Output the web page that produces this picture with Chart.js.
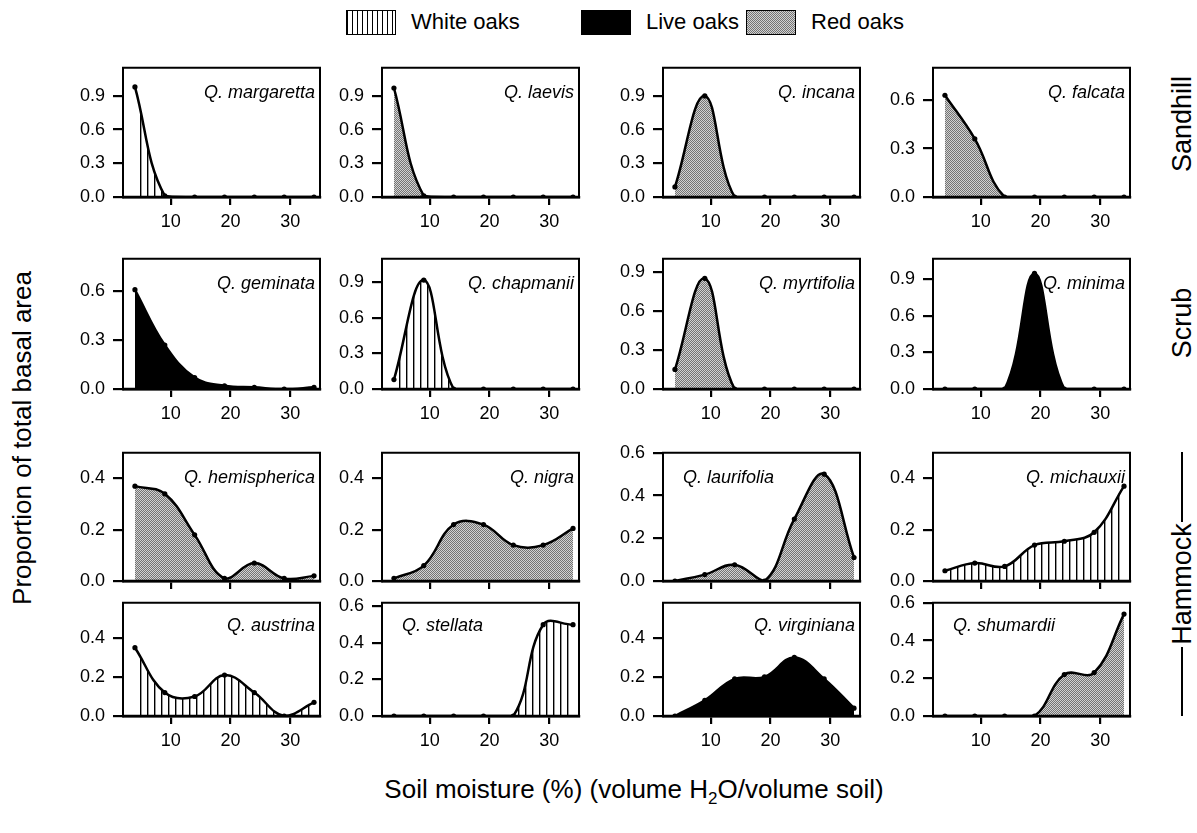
<!DOCTYPE html>
<html>
<head>
<meta charset="utf-8">
<script src="https://cdn.jsdelivr.net/npm/chart.js@4.4.1/dist/chart.umd.min.js"></script>
<style>
  html, body { margin: 0; padding: 0; background: #fff; }
  body { width: 1197px; height: 833px; position: relative; overflow: hidden;
         font-family: "Liberation Sans", Arial, Helvetica, sans-serif; color: #000; }
  canvas.panel { position: absolute; }
  .legend-item { position: absolute; top: 8px; height: 28px; display: flex; align-items: center; font-size: 22px; }
  .swatch { width: 50px; height: 25px; box-sizing: border-box; border: 1.5px solid #000; margin-right: 15px; }
  .rot { position: absolute; transform: translate(-50%, -50%) rotate(-90deg); white-space: nowrap; }
  .vline { position: absolute; width: 2px; background: #000; }
</style>
</head>
<body>
<div class="legend-item" style="left:346px;"><div class="swatch" id="swWhite"></div>White oaks</div>
<div class="legend-item" style="left:581px;"><div class="swatch" style="background:#000"></div>Live oaks</div>
<div class="legend-item" style="left:746px;"><div class="swatch" id="swRed"></div>Red oaks</div>

<div class="rot" style="left:22px; top:438px; font-size:26px;">Proportion of total basal area</div>
<div style="position:absolute; left:0; width:1268px; top:774px; text-align:center; font-size:26px;">Soil moisture (%) (volume H<sub style="font-size:17px;">2</sub>O/volume soil)</div>

<div class="rot" style="left:1182px; top:124px; font-size:27px;">Sandhill</div>
<div class="rot" style="left:1182px; top:323px; font-size:27px;">Scrub</div>
<div class="rot" style="left:1182px; top:584px; font-size:27px;">Hammock</div>
<div class="vline" style="left:1181px; top:452px; height:70px;"></div>
<div class="vline" style="left:1181px; top:647px; height:69px;"></div>

<script>
// ---------------- DATA ----------------
const moisture = [4, 9, 14, 19, 24, 29, 34];          // soil moisture classes (%)
const xTickLabels = [10, 20, 30];

const species = [
  'Q. margaretta', 'Q. laevis', 'Q. incana', 'Q. falcata',
  'Q. geminata', 'Q. chapmanii', 'Q. myrtifolia', 'Q. minima',
  'Q. hemispherica', 'Q. nigra', 'Q. laurifolia', 'Q. michauxii',
  'Q. austrina', 'Q. stellata', 'Q. virginiana', 'Q. shumardii'
];
const oakGroup = [
  'white', 'red', 'red', 'red',
  'live', 'white', 'red', 'live',
  'red', 'red', 'red', 'white',
  'white', 'white', 'live', 'red'
];

const margaretta   = [0.98, 0.01, 0.00, 0.00, 0.00, 0.00, 0.00];
const laevis       = [0.97, 0.01, 0.00, 0.00, 0.00, 0.00, 0.00];
const incana       = [0.09, 0.90, 0.00, 0.00, 0.00, 0.00, 0.00];
const falcata      = [0.63, 0.36, 0.00, 0.00, 0.00, 0.00, 0.00];
const geminata     = [0.61, 0.27, 0.07, 0.02, 0.01, 0.00, 0.01];
const chapmanii    = [0.08, 0.92, 0.00, 0.00, 0.00, 0.00, 0.00];
const myrtifolia   = [0.15, 0.85, 0.00, 0.00, 0.00, 0.00, 0.00];
const minima       = [0.00, 0.00, 0.00, 0.95, 0.00, 0.00, 0.00];
const hemispherica = [0.37, 0.34, 0.18, 0.01, 0.07, 0.01, 0.02];
const nigra        = [0.01, 0.06, 0.22, 0.22, 0.14, 0.14, 0.205];
const laurifolia   = [0.00, 0.03, 0.076, 0.00, 0.29, 0.50, 0.11];
const michauxii    = [0.04, 0.07, 0.057, 0.14, 0.155, 0.19, 0.37];
const austrina     = [0.35, 0.12, 0.10, 0.21, 0.12, 0.00, 0.07];
const stellata     = [0.00, 0.00, 0.00, 0.00, 0.00, 0.50, 0.50];
const virginiana   = [0.00, 0.08, 0.19, 0.20, 0.30, 0.19, 0.04];
const shumardii    = [0.00, 0.00, 0.00, 0.00, 0.22, 0.23, 0.54];

const seriesValues = [
  margaretta, laevis, incana, falcata,
  geminata, chapmanii, myrtifolia, minima,
  hemispherica, nigra, laurifolia, michauxii,
  austrina, stellata, virginiana, shumardii
];

// y-axis extents and tick steps per panel
const yMax  = [1.15, 1.15, 1.15, 0.80,  0.80, 1.10, 1.00, 1.07,  0.50, 0.50, 0.60, 0.50,  0.58, 0.62, 0.58, 0.60];
const yStep = [0.3, 0.3, 0.3, 0.3,  0.3, 0.3, 0.3, 0.3,  0.2, 0.2, 0.2, 0.2,  0.2, 0.2, 0.2, 0.2];
const labelLeft = [false, false, false, false, false, false, false, false, false, false, true, false, false, true, false, true];

// ---------------- LAYOUT ----------------
const colLeft = [123, 382, 663, 933];
const boxW = 197;
const rowTop = [65, 256, 450, 600];
const rowBottom = [197, 389, 581, 716];
const PADT = 16, PADR = 16, YW = 60, XH = 36;
const FONT = '"Liberation Sans", Arial, Helvetica, sans-serif';

function makeFill(ctx, group) {
  if (group === 'live') return '#000';
  const c = document.createElement('canvas');
  const g = c.getContext('2d');
  if (group === 'white') {
    c.width = 7; c.height = 4;
    g.fillStyle = '#fff'; g.fillRect(0, 0, 7, 4);
    g.fillStyle = '#000'; g.fillRect(0, 0, 1.4, 4);
  } else {
    c.width = 2; c.height = 2;
    g.fillStyle = '#d2d2d2'; g.fillRect(0, 0, 2, 2);
    g.fillStyle = '#747474'; g.fillRect(0, 0, 1, 1); g.fillRect(1, 1, 1, 1);
  }
  return ctx.createPattern(c, 'repeat');
}

// legend swatches
(function () {
  const w = document.getElementById('swWhite');
  w.style.background = 'repeating-linear-gradient(90deg, #000 0px, #000 1.3px, #fff 1.3px, #fff 5px)';
  const r = document.getElementById('swRed');
  const c = document.createElement('canvas'); c.width = 2; c.height = 2;
  const g = c.getContext('2d');
  g.fillStyle = '#d2d2d2'; g.fillRect(0, 0, 2, 2);
  g.fillStyle = '#747474'; g.fillRect(0, 0, 1, 1); g.fillRect(1, 1, 1, 1);
  r.style.background = 'url(' + c.toDataURL() + ')';
})();

const framePlugin = {
  id: 'frame',
  afterDraw(chart, args, opts) {
    const { ctx, chartArea: a } = chart;
    ctx.save();
    ctx.strokeStyle = '#000';
    ctx.lineWidth = 2;
    ctx.beginPath();
    ctx.moveTo(a.left, a.bottom);
    ctx.lineTo(a.left, a.top);
    ctx.lineTo(a.right, a.top);
    ctx.lineTo(a.right, a.bottom);
    ctx.stroke();
    ctx.lineWidth = 2.5;
    ctx.beginPath();
    ctx.moveTo(a.left, a.bottom);
    ctx.lineTo(a.right + 1, a.bottom);
    ctx.stroke();
    // species label
    ctx.fillStyle = '#000';
    ctx.font = 'italic 18px ' + FONT;
    ctx.textBaseline = 'alphabetic';
    if (opts.left) {
      ctx.textAlign = 'left';
      ctx.fillText(opts.title, a.left + 20, a.top + opts.dy);
    } else {
      ctx.textAlign = 'right';
      ctx.fillText(opts.title, a.right - 5, a.top + opts.dy);
    }
    ctx.restore();
  }
};

for (let i = 0; i < 16; i++) {
  const col = i % 4, row = Math.floor(i / 4);
  const H = rowBottom[row] - rowTop[row];
  const cv = document.createElement('canvas');
  cv.className = 'panel';
  const cw = YW + boxW + PADR, ch = PADT + H + XH;
  cv.width = cw; cv.height = ch;
  cv.style.left = (colLeft[col] - YW) + 'px';
  cv.style.top = (rowTop[row] - PADT) + 'px';
  cv.style.width = cw + 'px'; cv.style.height = ch + 'px';
  document.body.appendChild(cv);
  const ctx = cv.getContext('2d');
  const pts = moisture.map((x, k) => ({ x: x, y: seriesValues[i][k] }));
  const showX = row !== 2;

  new Chart(ctx, {
    type: 'line',
    data: {
      datasets: [{
        data: pts,
        borderColor: '#000',
        borderWidth: 2.5,
        backgroundColor: makeFill(ctx, oakGroup[i]),
        fill: 'origin',
        tension: 0.4,
        pointRadius: 2.6,
        pointHoverRadius: 2.6,
        pointBackgroundColor: '#000',
        pointBorderWidth: 0
      }]
    },
    options: {
      responsive: false,
      animation: false,
      devicePixelRatio: 1,
      events: [],
      layout: { padding: { top: PADT, right: PADR, left: 0, bottom: 0 } },
      plugins: {
        legend: { display: false },
        tooltip: { enabled: false },
        frame: { title: species[i], left: labelLeft[i], dy: row === 3 ? 28 : 30 }
      },
      scales: {
        x: {
          type: 'linear',
          min: 2, max: 35,
          z: 1,
          afterBuildTicks(s) { s.ticks = xTickLabels.map(v => ({ value: v })); },
          afterFit(s) { s.height = XH; },
          ticks: {
            autoSkip: false, maxRotation: 0, padding: 6,
            color: '#000', font: { size: 18, family: FONT },
            callback: (v) => showX ? String(v) : ''
          },
          grid: { drawOnChartArea: false, drawTicks: true, tickLength: 8, color: '#000', lineWidth: 2.2 },
          border: { display: true, color: '#000', width: 2.5 }
        },
        y: {
          min: 0, max: yMax[i],
          z: 1,
          afterFit(s) { s.width = YW; },
          ticks: {
            stepSize: yStep[i], includeBounds: false, padding: 8,
            color: '#000', font: { size: 18, family: FONT },
            callback: (v) => Number(v).toFixed(1)
          },
          grid: { drawOnChartArea: false, drawTicks: true, tickLength: 10, color: '#000', lineWidth: 2.2 },
          border: { display: true, color: '#000', width: 2 }
        }
      }
    },
    plugins: [framePlugin]
  });
}
</script>
</body>
</html>
